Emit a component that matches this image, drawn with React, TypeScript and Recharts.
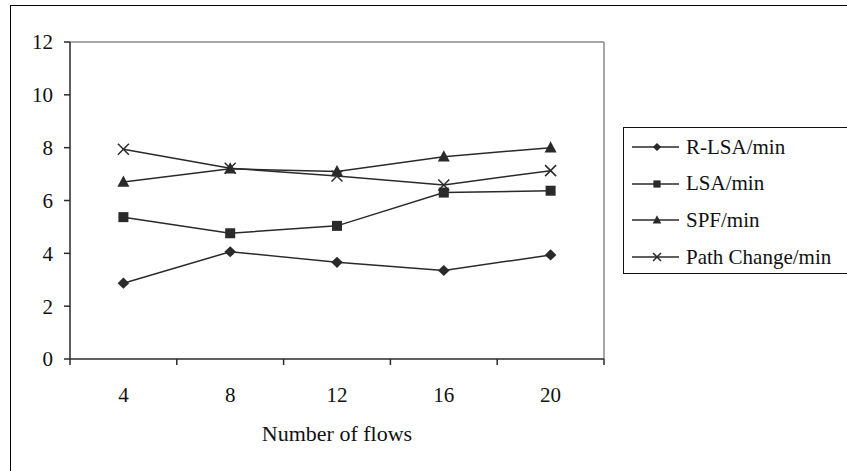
import { Legend, Line, LineChart, ReferenceLine, XAxis, YAxis } from 'recharts'

const FLOWS = [4, 8, 12, 16, 20]
const FLOW_EDGES = [2, 6, 10, 14, 18, 22]
const Y_TICKS = [0, 2, 4, 6, 8, 10, 12]

const R_LSA = [2.87, 4.06, 3.66, 3.35, 3.94]
const LSA = [5.37, 4.76, 5.04, 6.3, 6.37]
const SPF = [6.7, 7.2, 7.1, 7.66, 8.0]
const PATH_CHANGE = [7.94, 7.22, 6.93, 6.59, 7.13]

const SERIES = [
  { key: 'rLsa', name: 'R-LSA/min', shape: 'diamond' },
  { key: 'lsa', name: 'LSA/min', shape: 'square' },
  { key: 'spf', name: 'SPF/min', shape: 'triangle' },
  { key: 'pathChange', name: 'Path Change/min', shape: 'cross' },
]

const rows = FLOWS.map((flows, i) => ({
  flows,
  rLsa: R_LSA[i],
  lsa: LSA[i],
  spf: SPF[i],
  pathChange: PATH_CHANGE[i],
}))

const FONT = '"Liberation Serif", "Times New Roman", serif'
const INK = '#2a2a2a'

function Marker({ cx, cy, shape, s = 1 }: { cx: number; cy: number; shape: string; s?: number }) {
  if (shape === 'diamond') {
    const w = 5.8 * s
    const h = 5.6 * s
    return <polygon points={`${cx},${cy - h} ${cx + w},${cy} ${cx},${cy + h} ${cx - w},${cy}`} fill={INK} />
  }
  if (shape === 'square') {
    const h = 5 * s
    return <rect x={cx - h} y={cy - h} width={h * 2} height={h * 2} fill={INK} />
  }
  if (shape === 'triangle') {
    const w = 6 * s
    return (
      <polygon
        points={`${cx},${cy - 6.5 * s} ${cx + w},${cy + 4.8 * s} ${cx - w},${cy + 4.8 * s}`}
        fill={INK}
      />
    )
  }
  const h = 5.5 * s
  return (
    <g stroke={INK} strokeWidth={1.5}>
      <line x1={cx - h} y1={cy - h} x2={cx + h} y2={cy + h} />
      <line x1={cx - h} y1={cy + h} x2={cx + h} y2={cy - h} />
    </g>
  )
}

// labels sit under the category centres, tick marks on the boundaries between them
function FlowTick({ x, y, payload }: any) {
  if (FLOWS.includes(payload.value)) {
    return (
      <text x={x} y={y + 28} dy="0.71em" textAnchor="middle" fill="#111" fontSize={21} fontFamily={FONT}>
        {payload.value}
      </text>
    )
  }
  return <line x1={x} x2={x} y1={y} y2={y + 6} stroke={INK} strokeWidth={1.5} />
}

function LegendBox() {
  return (
    <div
      style={{
        width: 260,
        height: 147,
        boxSizing: 'border-box',
        border: '1px solid #111',
        paddingTop: 1,
        fontFamily: FONT,
        fontSize: 21,
        color: '#111',
      }}
    >
      {SERIES.map((s) => (
        <div key={s.key} style={{ display: 'flex', alignItems: 'center', height: 36.6, paddingLeft: 8 }}>
          <svg width={48} height={16} style={{ marginRight: 6 }}>
            <line x1={0} x2={47} y1={8} y2={8} stroke={INK} strokeWidth={1.5} />
            <Marker cx={25} cy={8} shape={s.shape} s={0.72} />
          </svg>
          <span>{s.name}</span>
        </div>
      ))}
    </div>
  )
}

export default function App() {
  return (
    <div
      style={{
        position: 'absolute',
        left: 0,
        top: 0,
        width: 847,
        height: 471,
        overflow: 'hidden',
        background: '#fff',
      }}
    >
      <div
        style={{
          position: 'absolute',
          left: 10,
          top: 5,
          width: 900,
          height: 520,
          border: '1.6px solid #000',
        }}
      />
      <LineChart
        width={847}
        height={471}
        data={rows}
        margin={{ top: 42, right: 243, bottom: 82, left: 10 }}
      >
        <XAxis
          dataKey="flows"
          type="number"
          domain={[2, 22]}
          ticks={[...FLOW_EDGES, ...FLOWS].sort((a, b) => a - b)}
          interval={0}
          tick={<FlowTick />}
          tickLine={false}
          tickSize={0}
          tickMargin={0}
          height={30}
          axisLine={{ stroke: INK, strokeWidth: 1.5 }}
        />
        <YAxis
          domain={[0, 12]}
          ticks={Y_TICKS}
          interval={0}
          width={60}
          tickSize={6}
          tickMargin={11}
          tick={{ fill: '#111', fontSize: 21, fontFamily: FONT }}
          tickLine={{ stroke: INK, strokeWidth: 1.5 }}
          axisLine={{ stroke: INK, strokeWidth: 1.5 }}
        />
        <ReferenceLine y={12} stroke="#8a8a8a" strokeWidth={1.5} />
        <ReferenceLine x={22} stroke="#8a8a8a" strokeWidth={1.5} />
        <Legend
          layout="vertical"
          align="center"
          verticalAlign="middle"
          content={<LegendBox />}
          wrapperStyle={{ left: 623, top: 127, width: 260 }}
        />
        {SERIES.map((s) => (
          <Line
            key={s.key}
            dataKey={s.key}
            name={s.name}
            stroke={INK}
            strokeWidth={1.5}
            isAnimationActive={false}
            activeDot={false}
            dot={(p: any) => <Marker key={`${s.key}-${p.index}`} cx={p.cx} cy={p.cy} shape={s.shape} />}
          />
        ))}
      </LineChart>
      <div
        style={{
          position: 'absolute',
          left: 70,
          width: 534,
          top: 421,
          textAlign: 'center',
          fontFamily: FONT,
          fontSize: 22,
          color: '#111',
        }}
      >
        Number of flows
      </div>
    </div>
  )
}
